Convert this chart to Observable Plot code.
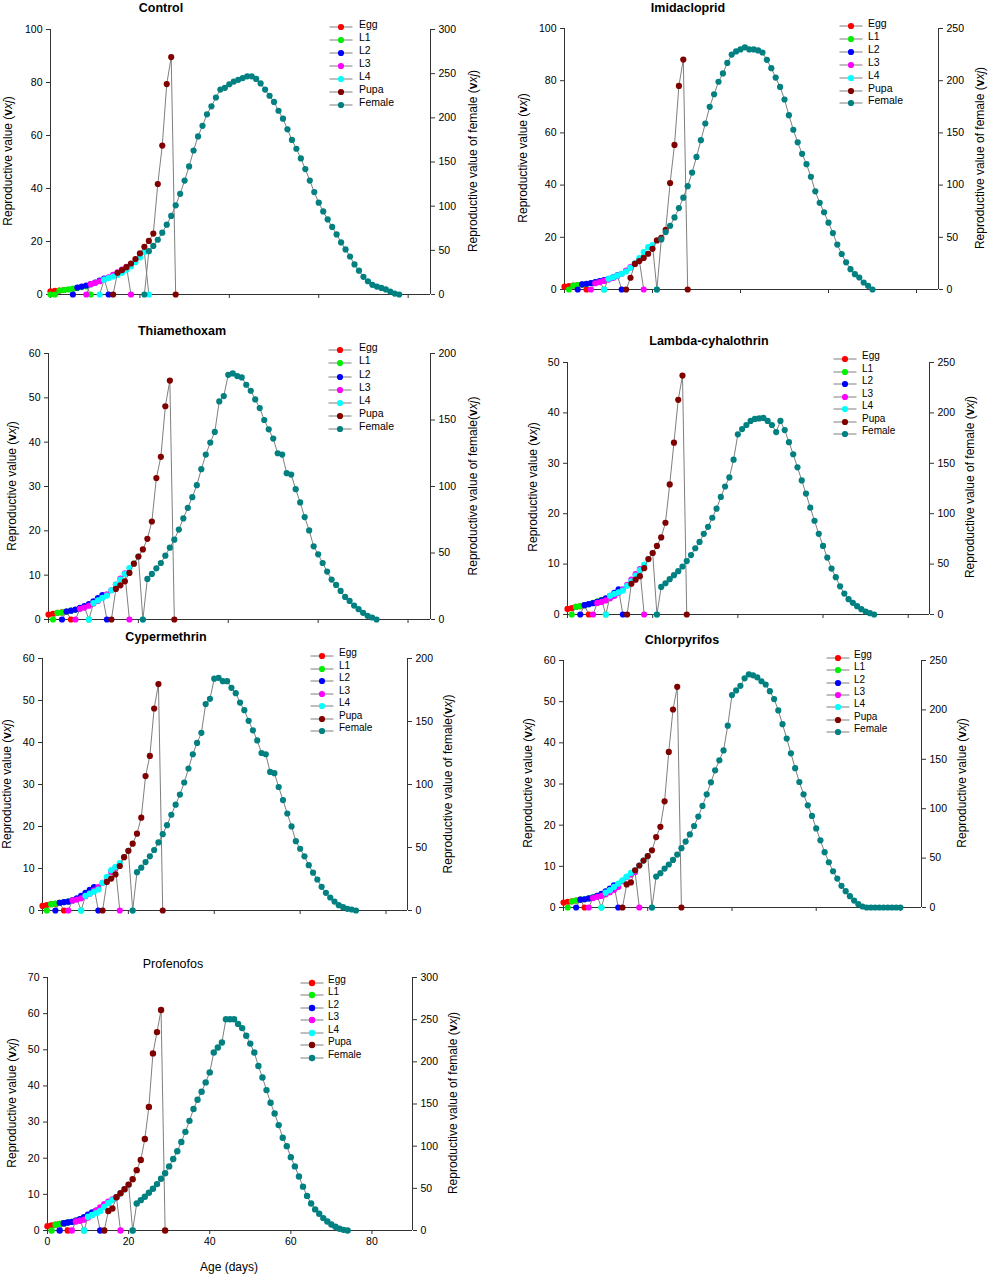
<!DOCTYPE html>
<html><head><meta charset="utf-8">
<script src="https://cdn.jsdelivr.net/npm/d3@7"></script>
<script src="https://cdn.jsdelivr.net/npm/@observablehq/plot@0.6"></script>
<style>
body{margin:0;background:#fff;}
#root{position:relative;width:989px;height:1275px;overflow:hidden;font-family:"Liberation Sans",Arial,sans-serif;color:#000;background:#fff;}
.abs{position:absolute;white-space:nowrap;line-height:1;}
</style></head><body><div id="root"></div>
<script>
const stages = ["Egg","L1","L2","L3","L4","Pupa","Female"];
const stageColors = ["#ff0000","#00f000","#0000ff","#ff00ff","#00ffff","#800000","#008080"];
const xTicks = [0,20,40,60,80];
const titles = ["Control","Imidacloprid","Thiamethoxam","Lambda-cyhalothrin","Cypermethrin","Chlorpyrifos","Profenofos"];
const leftMax = [100,100,60,50,60,60,70];
const leftStep = [20,20,10,10,10,10,10];
const rightMax = [300,250,200,250,200,250,300];
const rightStep = [50,50,50,50,50,50,50];
const xMax = [85,85,85,85,85,85,90];
const rightLabels = ["Reproductive value of female ","Reproductive value of female ","Reproductive value of female","Reproductive value of female ","Reproductive value of female","Reproductive value ","Reproductive value of female "];

// first age of each stage series: Egg, L1, L2, L3, L4, Pupa, Female
const controlStarts = [0,0,5,8,11,14,21];
const commonStarts = [0,1,3,6,9,14,21];

// Control
const controlEgg = [1.2,1.35,1.5,1.7];
const controlL1 = [0,0,1.5,1.7,1.9,2.2,2.5,2.8,3.1,0];
const controlL2 = [0,2.6,3.0,3.4,3.9,4.5,5.2,6.0,0];
const controlL3 = [0,3.9,4.4,5.0,5.7,6.5,7.4,8.4,9.4,10.4,0];
const controlL4 = [0,5.6,6.2,6.8,7.4,8.2,9.3,10.6,12.2,14.0,16.0,0];
const controlPupa = [0,8.2,9.2,10.3,11.7,13.4,15.5,18.0,20.2,23.0,41.7,56.2,79.4,89.6,0];
const controlFemale = [0,49,55,62,70,79,89,101,114,129,145,163,179,191,204,213,223,232,234,238,241,243,245,247,247,244,239,232,225,218,208,199,187,175,165,154,142,129,116,104,94,85,76.5,68,59,51,43,34,27,20,15,11,9,7.5,5.7,3.4,1,0];

// Imidacloprid
const imidEgg = [1.1,1.3,1.5,1.7,1.9,0];
const imidL1 = [0,1.5,1.7,1.9,2.1,2.4,2.7,3.0,0];
const imidL2 = [0,2.0,2.2,2.5,2.8,3.2,3.6,4.1,4.7,5.4,0];
const imidL3 = [0,2.4,2.8,3.3,3.8,4.4,5.1,6.0,7.2,8.6,9.9,11.2,0];
const imidL4 = [0,4.1,4.7,5.3,6.0,6.9,8.3,10.0,12.0,14.3,16.2,17.0,0];
const imidPupa = [0,4.5,9.8,10.9,12.1,13.7,15.6,18.8,19.8,22.9,40.8,55.4,78.0,88.1,0];
const imidFemale = [0,48,55,61,69,78,88,99,112,127,143,159,175,187,199,207,217,225,228,230,232,230,230,229,227,220,212,203,194,182,167,153,141,130,120,108,94,83,74,64,54,43,34,26,19.5,14.7,11.5,6.7,3.5,0];

// Thiamethoxam
const thiaEgg = [1.1,1.3,1.5,1.6,1.8,0];
const thiaL1 = [0,1.5,1.6,1.8,2.0,2.2,2.5,2.8,0];
const thiaL2 = [0,1.8,2.0,2.25,2.6,3.0,3.5,4.1,4.8,5.5,0];
const thiaL3 = [0,2.4,2.7,3.1,3.6,4.2,4.9,5.7,6.6,7.9,9.2,10.4,0];
const thiaL4 = [0,3.7,4.3,4.9,5.4,6.6,7.9,9.0,10.3,11.6,12.6,14.2,0];
const thiaPupa = [0,6.9,7.7,8.6,10.5,12.6,14.2,15.8,18.2,22.1,31.9,36.7,48.1,53.9,0];
const thiaFemale = [0,30.5,34.3,38.5,42.5,48,54,60,67.6,76,84,92,101,113,124,133,141,164,168,184,185,183,182,176.5,172,165.5,159,150,143,136,125,124,110,109,98,88,77,67,55,49,42.5,36,30,26,21.5,17,14,10.5,7.8,5,2.8,1.5,0];

// Lambda-cyhalothrin
const lambdaEgg = [1.1,1.25,1.5,1.65,1.85,0];
const lambdaL1 = [0,1.5,1.65,1.85,2.05,2.3,2.6,2.9,0];
const lambdaL2 = [0,1.85,2.05,2.25,2.5,2.8,3.2,3.7,4.3,5.0,0];
const lambdaL3 = [0,2.3,2.5,2.8,3.2,3.7,4.3,5.0,5.9,6.9,8.0,9.0,0];
const lambdaL4 = [0,3.7,4.1,4.4,4.75,5.7,6.6,7.7,8.8,9.9,11.0,12.2,0];
const lambdaPupa = [0,6.1,6.9,7.6,9.2,11.0,12.2,13.6,15.3,18.2,25.8,34.1,42.6,47.4,0];
const lambdaFemale = [0,27.4,31,35,39,43,47.6,53,59,65.7,72,80,87,96,105,116.6,127,136,153.6,178.7,184,188,192,194,194.5,195,192,188,181,192,183,171,159,146,133,120,106,93,80,68,56.5,45.6,37,28,20.8,15.2,11.6,8.3,5.3,3,1.3,0];

// Cypermethrin
const cypEgg = [1.1,1.3,1.5,1.6,1.8,0];
const cypL1 = [0,1.5,1.67,1.85,2.0,2.2,2.5,2.8,0];
const cypL2 = [0,1.85,2.0,2.1,2.4,2.9,3.5,4.2,4.9,5.6,0];
const cypL3 = [0,2.4,2.6,2.9,3.4,4.0,4.8,5.6,6.6,7.8,9.2,10.2,0];
const cypL4 = [0,3.5,4.0,4.5,5.0,6.6,8.0,9.6,10.4,11.3,12.7,14.2,0];
const cypPupa = [0,6.8,7.6,8.6,10.6,12.7,14.2,15.9,18.3,22.1,32.0,36.8,48.1,53.9,0];
const cypFemale = [0,30.4,34,38.4,43,48,54,60.6,67.7,76,84,92,101.6,112.7,124,133,141,163.8,168,184,184.7,182,182,176.7,172.5,165,159,150.5,143,135,125,124,110,109,98,87.6,77,66.7,55,49,43,36,30,24.6,18.8,14,10.3,7.1,4.2,2.6,1.3,0.8,0];

// Chlorpyrifos
const chlorEgg = [1.2,1.4,1.5,1.7,1.9,0];
const chlorL1 = [0,1.5,1.7,1.9,2.0,2.2,2.5,2.8,0];
const chlorL2 = [0,1.9,2.0,2.2,2.4,2.8,3.3,3.9,4.6,5.4,0];
const chlorL3 = [0,2.3,2.6,2.8,3.2,3.7,4.3,5.0,6.4,7.4,8.0,8.6,0];
const chlorL4 = [0,3.6,4.2,5.0,5.8,6.6,7.5,8.4,9.05,10.2,11.4,12.5,0];
const chlorPupa = [0,5.6,6.1,9.05,10.2,11.4,12.5,13.9,17.1,19.6,25.8,37.8,48.1,53.6,0];
const chlorFemale = [0,31.3,34.7,39.4,43.5,48.2,53.6,60,66.7,74,82.5,92,102.8,114.6,126.7,138.8,149,159,184,215,219.7,224.4,232,236,235,233,229,225.7,219,211,199.5,185.6,171,156,141,127,114.6,103.4,92.7,80,68,56,45.8,36.7,29.3,21.9,16.5,11.5,7,3.4,1,0,0,0,0,0,0,0,0,0];

// Profenofos
const profEgg = [1.2,1.4,1.6,1.8,2.0,0];
const profL1 = [0,1.6,1.8,2.0,2.2,2.4,2.7,3.0,0];
const profL2 = [0,2.0,2.2,2.4,2.7,3.1,3.7,4.4,5.0,5.5,0];
const profL3 = [0,2.5,2.7,3.0,3.6,4.3,5.5,6.4,7.3,8.0,8.6,9.2,0];
const profL4 = [0,3.8,4.3,4.8,5.4,6.5,7.6,8.4,9.2,10.3,11.4,12.7,0];
const profPupa = [0,5.4,6.1,9.2,10.3,11.4,12.7,14.2,16.7,19.5,25.3,34.2,49.0,54.9,61.0,0];
const profFemale = [0,32,36,40,44.8,49.5,55,61.4,67.8,76,84.8,94,105,117,130,144,155,164.5,175.6,187.5,211,217,223,250.5,250.5,250.5,245,240,231,221.6,211,195,181.5,166.5,151.4,138.7,125,110,100,87,76,64,52,41,32,25,19.8,14.7,10.7,7.1,4.4,2,0.8,0];

const panelSeries = [
  [controlEgg,controlL1,controlL2,controlL3,controlL4,controlPupa,controlFemale],
  [imidEgg,imidL1,imidL2,imidL3,imidL4,imidPupa,imidFemale],
  [thiaEgg,thiaL1,thiaL2,thiaL3,thiaL4,thiaPupa,thiaFemale],
  [lambdaEgg,lambdaL1,lambdaL2,lambdaL3,lambdaL4,lambdaPupa,lambdaFemale],
  [cypEgg,cypL1,cypL2,cypL3,cypL4,cypPupa,cypFemale],
  [chlorEgg,chlorL1,chlorL2,chlorL3,chlorL4,chlorPupa,chlorFemale],
  [profEgg,profL1,profL2,profL3,profL4,profPupa,profFemale]
];
const panelStarts = [controlStarts,commonStarts,commonStarts,commonStarts,commonStarts,commonStarts,commonStarts];

// layout (page pixels): frame L,R,T,B; title; axis label x; legend
const layout = [
  {L:50,R:430,T:29,B:294,tx:161,ty:8,bold:true,llx:8,rlx:473,ly:161,mx:341,lx:359,ly0:23.5,lstep:13.1,lfs:10.5,r:3.1},
  {L:564,R:938,T:28,B:289,tx:688,ty:8,bold:true,llx:523,rlx:980,ly:158,mx:851,lx:868,ly0:23.3,lstep:12.85,lfs:10.5,r:3.1},
  {L:48,R:430,T:353,B:619,tx:182,ty:331,bold:true,llx:12,rlx:473,ly:486,mx:340,lx:359,ly0:347.3,lstep:13.15,lfs:10.5,r:3.1},
  {L:567,R:929,T:362,B:614,tx:709,ty:341,bold:true,llx:533,rlx:970,ly:487,mx:845,lx:862,ly0:356,lstep:12.55,lfs:10,r:3.1},
  {L:42,R:407,T:658,B:910,tx:166,ty:637,bold:true,llx:7,rlx:448,ly:784,mx:322,lx:339,ly0:653.3,lstep:12.45,lfs:10,r:3.1},
  {L:563,R:921,T:660,B:907,tx:682,ty:640,bold:true,llx:528,rlx:962,ly:783,mx:838,lx:854,ly0:655,lstep:12.3,lfs:10,r:3.1},
  {L:47,R:412,T:977,B:1230,tx:173,ty:964,bold:false,llx:12,rlx:453,ly:1103,mx:312,lx:328,ly0:979.7,lstep:12.55,lfs:10,r:3.2}
];

const root = document.getElementById("root");
function place(html, css) {
  const e = document.createElement("div");
  e.className = "abs";
  Object.assign(e.style, css);
  e.innerHTML = html;
  root.appendChild(e);
  return e;
}
const vxj = "(<b>v</b><i>xj</i>)";

panelSeries.forEach((series, i) => {
  const p = layout[i];
  const ml = 45, mr = 45, mt = 12, mb = 32;
  const w = p.R - p.L + ml + mr, h = p.B - p.T + mt + mb;
  const yMax = leftMax[i], rMax = rightMax[i], k = yMax / rMax;
  const marks = [];
  series.forEach((vals, s) => {
    const data = vals.map((v, j) => ({age: panelStarts[i][s] + j, v: s === 6 ? v * k : v}));
    marks.push(Plot.line(data, {x: "age", y: "v", stroke: "#7f7f7f", strokeWidth: 1}));
    marks.push(Plot.dot(data, {x: "age", y: "v", r: p.r, fill: stageColors[s], stroke: "none"}));
  });
  const chart = Plot.plot({
    width: w, height: h,
    marginLeft: ml, marginRight: mr, marginTop: mt, marginBottom: mb,
    x: {domain: [0, xMax[i]], label: null, axis: null},
    y: {domain: [0, yMax], label: null, axis: null},
    style: {fontFamily: '"Liberation Sans", Arial, sans-serif', fontSize: "10.5px", color: "#000", background: "transparent", overflow: "visible"},
    marks: [
      Plot.axisY(d3.range(0, yMax + 0.001, leftStep[i]), {anchor: "left", tickSize: 4, tickPadding: 4, label: null, stroke: "#333"}),
      Plot.axisY(d3.range(0, rMax + 0.001, rightStep[i]).map(t => t * k), {anchor: "right", tickSize: 4, tickPadding: 4, label: null, stroke: "#333", tickFormat: d => Math.round(d / k)}),
      Plot.axisX(xTicks, {anchor: "bottom", tickSize: 4, tickPadding: 3, label: null, stroke: "#333", tickFormat: i === 6 ? (d => d) : (() => "")}),
      Plot.ruleX([0], {stroke: "#333"}),
      Plot.ruleX([xMax[i]], {stroke: "#333"}),
      Plot.ruleY([0], {stroke: "#333"}),
      ...marks
    ]
  });
  chart.style.position = "absolute";
  chart.style.left = (p.L - ml) + "px";
  chart.style.top = (p.T - mt) + "px";
  root.appendChild(chart);

  // title
  place(titles[i], {left: p.tx + "px", top: p.ty + "px", transform: "translate(-50%,-50%)", fontSize: "12.5px", fontWeight: p.bold ? "bold" : "normal"});
  // axis labels
  place("Reproductive value " + vxj, {left: p.llx + "px", top: p.ly + "px", transform: "translate(-50%,-50%) rotate(-90deg)", fontSize: "12px"});
  place(rightLabels[i] + vxj, {left: p.rlx + "px", top: p.ly + "px", transform: "translate(-50%,-50%) rotate(-90deg)", fontSize: "12px"});
  // legend
  stages.forEach((name, s) => {
    const y = p.ly0 + s * p.lstep;
    place(`<svg width="24" height="10"><line x1="0.5" x2="23.5" y1="5" y2="5" stroke="#7f7f7f" stroke-width="1"/><circle cx="12" cy="5" r="${p.r}" fill="${stageColors[s]}"/></svg>`,
      {left: (p.mx - 12) + "px", top: (y - 5) + "px", height: "10px"});
    place(name, {left: p.lx + "px", top: y + "px", transform: "translateY(-50%)", fontSize: p.lfs + "px"});
  });
});
place("Age (days)", {left: "229px", top: "1267px", transform: "translate(-50%,-50%)", fontSize: "12px"});
</script></body></html>
